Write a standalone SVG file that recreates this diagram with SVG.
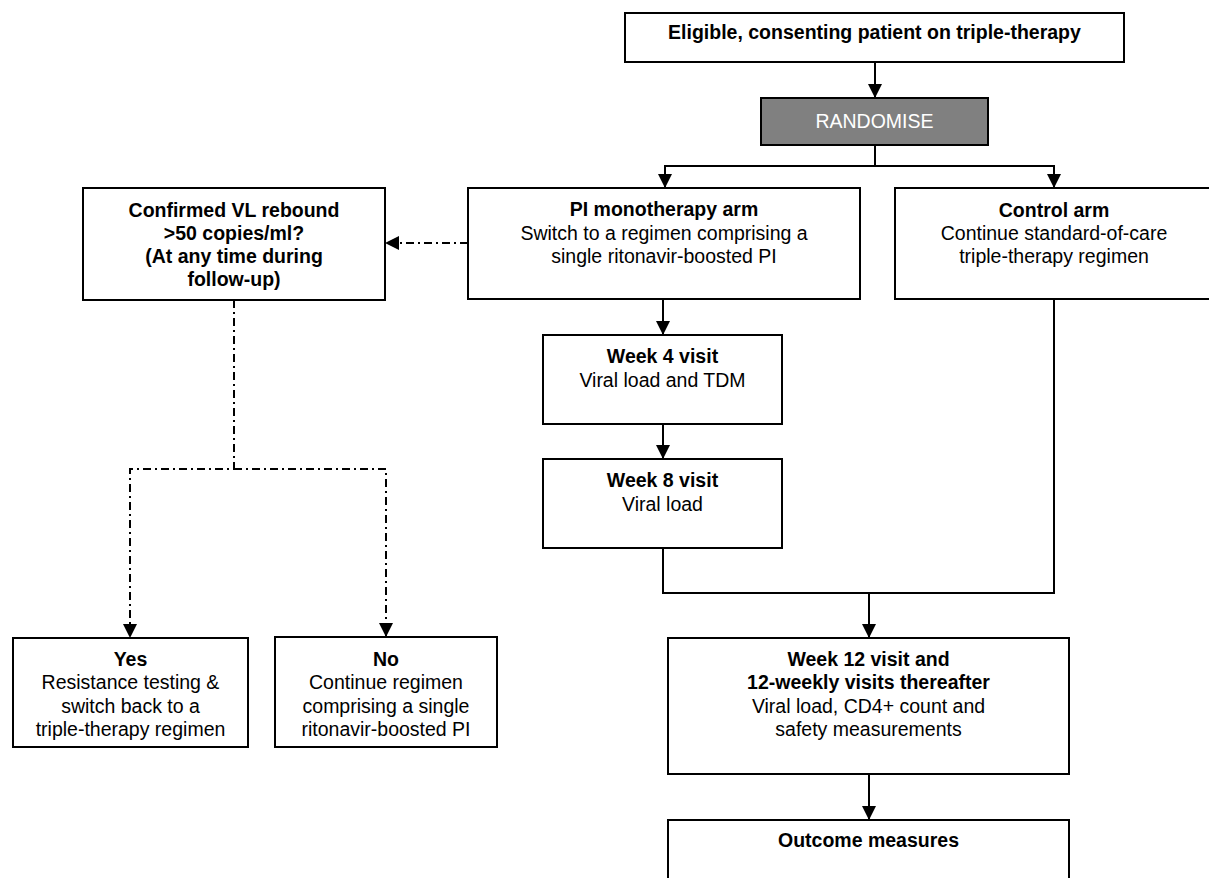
<svg xmlns="http://www.w3.org/2000/svg" width="1209" height="878" viewBox="0 0 1209 878">
<style>
.box{fill:#fff;stroke:#000;stroke-width:2}
.grey{fill:#808080;stroke:#000;stroke-width:2}
text{font-family:"Liberation Sans",Arial,sans-serif;font-size:19.5px;text-anchor:middle;fill:#000}
.b{font-weight:bold}
.w{fill:#fff}
.ln{fill:none;stroke:#000;stroke-width:2}
.dd{fill:none;stroke:#000;stroke-width:2;stroke-dasharray:8 4 2 4}
</style>
<defs>
<marker id="ah" markerUnits="userSpaceOnUse" markerWidth="14" markerHeight="14" viewBox="0 0 14 14" refX="14" refY="7" orient="auto">
<path d="M0,0 L14,7 L0,14 z" fill="#000"/>
</marker>
</defs>
<rect width="1209" height="878" fill="#fff"/>
<g id="connectors">
<path class="ln" d="M875,62 V98" marker-end="url(#ah)"/>
<path class="ln" d="M875,145 V166 H665 V188" marker-end="url(#ah)"/>
<path class="ln" d="M875,166 H1054 V188" marker-end="url(#ah)"/>
<path class="dd" d="M468,243 H385" marker-end="url(#ah)"/>
<path class="dd" d="M234,300 V469 H130 V638" marker-end="url(#ah)"/>
<path class="dd" d="M234,469 H386 V637" marker-end="url(#ah)"/>
<path class="ln" d="M663,299 V335" marker-end="url(#ah)"/>
<path class="ln" d="M663,424 V459" marker-end="url(#ah)"/>
<path class="ln" d="M663,548 V593 H1054 V299"/>
<path class="ln" d="M869,593 V638" marker-end="url(#ah)"/>
<path class="ln" d="M869,774 V820" marker-end="url(#ah)"/>
</g>
<g id="eligible">
<rect class="box" x="625" y="13" width="499" height="49"/>
<text class="b" x="874.5" y="39">Eligible, consenting patient on triple-therapy</text>
</g>
<g id="randomise">
<rect class="grey" x="761" y="98" width="227" height="47"/>
<text class="w" x="874.5" y="128">RANDOMISE</text>
</g>
<g id="pi-arm">
<rect class="box" x="468" y="188" width="392" height="111"/>
<text class="b" x="664" y="216">PI monotherapy arm</text>
<text x="664" y="240">Switch to a regimen comprising a</text>
<text x="664" y="263">single ritonavir-boosted PI</text>
</g>
<g id="control-arm">
<rect class="box" x="895" y="188" width="320" height="111"/>
<text class="b" x="1054" y="217">Control arm</text>
<text x="1054" y="240">Continue standard-of-care</text>
<text x="1054" y="263">triple-therapy regimen</text>
</g>
<g id="vl-rebound">
<rect class="box" x="83" y="188" width="302" height="112"/>
<text class="b" x="234" y="217">Confirmed VL rebound</text>
<text class="b" x="234" y="240">&gt;50 copies/ml?</text>
<text class="b" x="234" y="263">(At any time during</text>
<text class="b" x="234" y="286">follow-up)</text>
</g>
<g id="week4">
<rect class="box" x="543" y="335" width="239" height="89"/>
<text class="b" x="662.5" y="363">Week 4 visit</text>
<text x="662.5" y="387">Viral load and TDM</text>
</g>
<g id="week8">
<rect class="box" x="543" y="459" width="239" height="89"/>
<text class="b" x="662.5" y="487">Week 8 visit</text>
<text x="662.5" y="511">Viral load</text>
</g>
<g id="yes">
<rect class="box" x="13" y="638" width="235" height="109"/>
<text class="b" x="130.5" y="666">Yes</text>
<text x="130.5" y="689">Resistance testing &amp;</text>
<text x="130.5" y="713">switch back to a</text>
<text x="130.5" y="736">triple-therapy regimen</text>
</g>
<g id="no">
<rect class="box" x="275" y="637" width="222" height="110"/>
<text class="b" x="386" y="666">No</text>
<text x="386" y="689">Continue regimen</text>
<text x="386" y="713">comprising a single</text>
<text x="386" y="736">ritonavir-boosted PI</text>
</g>
<g id="week12">
<rect class="box" x="668" y="638" width="401" height="136"/>
<text class="b" x="868.5" y="666">Week 12 visit and</text>
<text class="b" x="868.5" y="689">12-weekly visits thereafter</text>
<text x="868.5" y="713">Viral load, CD4+ count and</text>
<text x="868.5" y="736">safety measurements</text>
</g>
<g id="outcome">
<rect class="box" x="668" y="820" width="401" height="70"/>
<text class="b" x="868.5" y="847">Outcome measures</text>
</g>
</svg>
